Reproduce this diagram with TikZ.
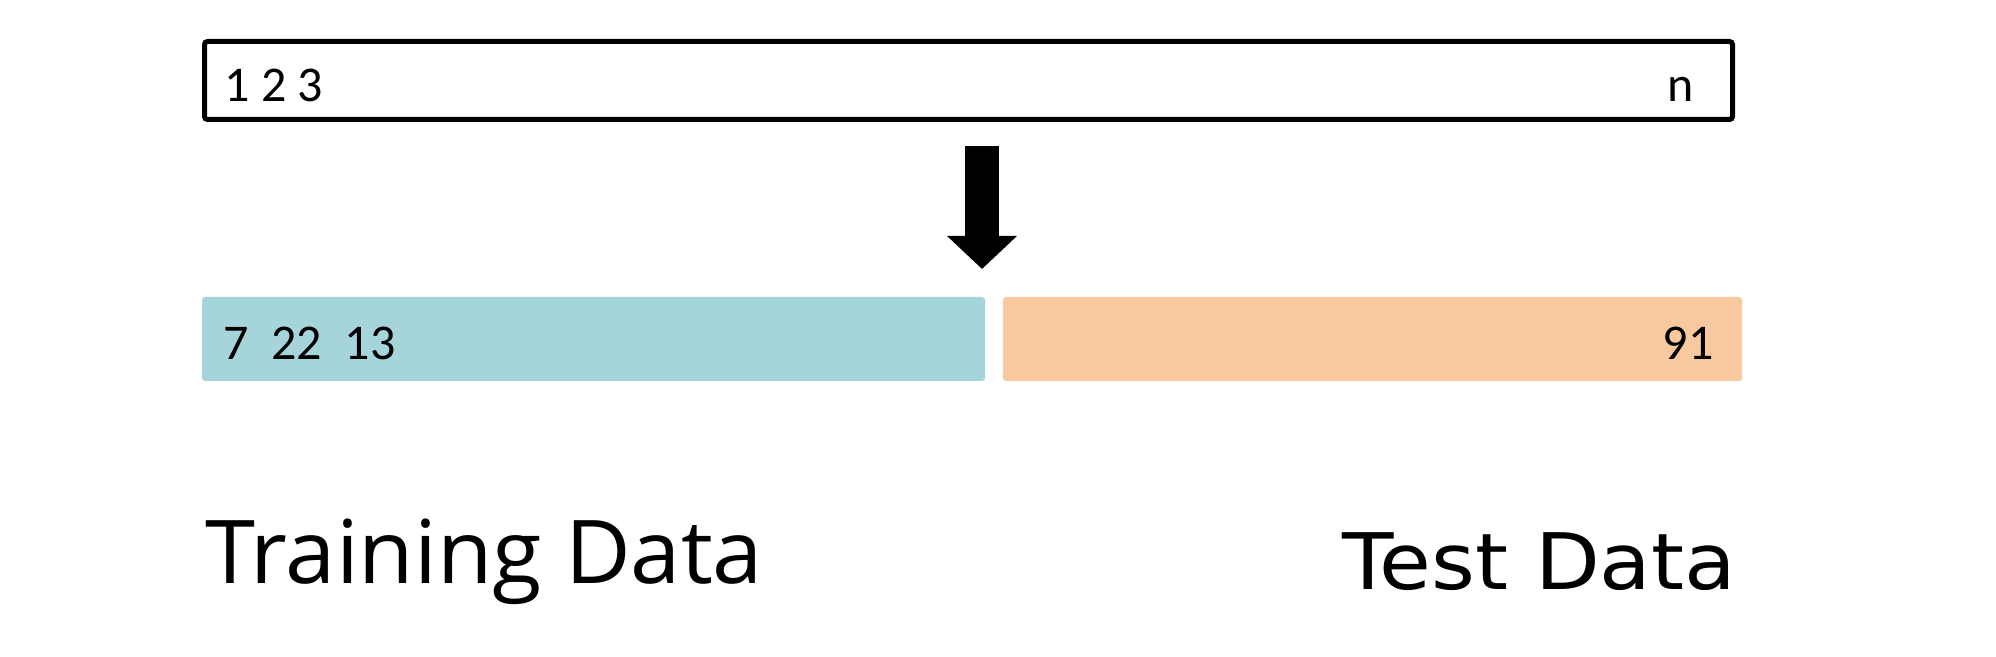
\documentclass[tikz,border=0pt]{standalone}
\usepackage{fontspec}
\setmainfont{Carlito}
\newfontfamily\trainlblfont{Open Sans}
\newfontfamily\testlblfont{DejaVu Sans}
\usetikzlibrary{arrows.meta}
\definecolor{traincol}{HTML}{A5D5DA}
\definecolor{testcol}{HTML}{F8C99E}
\tikzset{
  databox/.style={draw,line width=2.5pt,rounded corners=1.5pt,minimum width=764pt,minimum height=39pt,inner sep=0pt},
  split/.style={rounded corners=1.5pt,minimum height=42pt,inner sep=0pt},
  num/.style={inner sep=0pt,font=\fontsize{25}{30}\selectfont},
  big/.style={inner sep=0pt},
  bigarrow/.style={line width=17pt,-{Triangle[width=34pt,length=16.5pt]}}
}
\begin{document}
\begin{tikzpicture}[x=.5pt,y=-.5pt]
  \useasboundingbox (0,0) rectangle (1996,657);
  \node[databox] (all) at (968.5,80.5) {};
  \node[num,anchor=base west] (first) at (224,102) {1 2 3};
  \node[num,anchor=base east] (last) at (1694,102) {n};
  \node[split,fill=traincol,minimum width=391.5pt] (train) at (593.5,339) {};
  \node[split,fill=testcol,minimum width=369.5pt] (test) at (1372.5,339) {};
  \node[num,anchor=base west] (trainids) at (223,360) {7\ \ 22\ \ 13};
  \node[num,anchor=base east] (testids) at (1714,360) {91};
  \coordinate (from) at (982,146); \coordinate (to) at (982,269);
  \draw[bigarrow] (from) -- (to);
  \node[big,anchor=base west,xscale=1.025,font=\trainlblfont\fontsize{44}{52}\selectfont] (trainlbl) at (205,583) {Training Data};
  \node[big,anchor=base west,xscale=1.08,font=\testlblfont\fontsize{39}{47}\selectfont] (testlbl) at (1342,589) {Test Data};
\end{tikzpicture}
\end{document}
